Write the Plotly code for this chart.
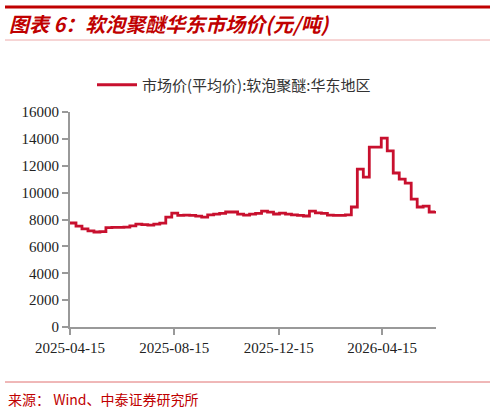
import plotly.graph_objects as go
import pandas as pd

start_date = "2025-04-15"
n_weeks = 62
prices = [7740, 7500, 7300, 7150, 7070, 7100, 7400, 7420, 7420, 7440,
          7520, 7650, 7620, 7580, 7650, 7730, 8180, 8480, 8300, 8330,
          8300, 8250, 8180, 8350, 8400, 8450, 8560, 8560, 8400, 8330,
          8400, 8450, 8630, 8550, 8410, 8480, 8400, 8350, 8300, 8260,
          8630, 8500, 8450, 8330, 8300, 8300, 8350, 8930, 11750, 11160,
          13390, 13390, 14060, 13100, 11460, 11000, 10700, 9520, 8930, 9000,
          8560, 8630]
dates = pd.date_range(start_date, periods=n_weeks, freq="7D")
tick_vals = ["2025-04-15", "2025-08-15", "2025-12-15", "2026-04-15"]
tick_text = ["2025-04-15", "2025-08-15", "2025-12-15", "2026-04-15"]
series_name = "市场价(平均价):软泡聚醚:华东地区"
title_text = "图表 6：软泡聚醚华东市场价(元/吨)"
source_text = "来源： Wind、中泰证券研究所"

W, H = 496, 412
L, R, T, B = 70, 436, 112, 327


def px(x):
    return (x - L) / (R - L)


def py(y):
    return (B - y) / (B - T)


fig = go.Figure()
fig.add_trace(go.Scatter(x=dates, y=prices, mode="lines", name=series_name,
                         line=dict(color="#c8102e", width=2.8, shape="hv")))

axis_font = dict(family="Liberation Serif, Times New Roman, serif", size=15, color="#222")
fig.update_layout(
    width=W, height=H,
    margin=dict(l=L, r=W - R, t=T, b=H - B),
    paper_bgcolor="white", plot_bgcolor="white",
    showlegend=True,
    legend=dict(orientation="h", x=px(92), y=py(85), xanchor="left", yanchor="middle",
                font=dict(family="Noto Sans CJK SC, serif", size=15, color="#333"),
                bgcolor="rgba(0,0,0,0)", itemwidth=40),
    xaxis=dict(type="date", range=["2025-04-15", "2026-06-17"],
               tickvals=tick_vals, ticktext=tick_text,
               showline=True, linecolor="#999", linewidth=2,
               ticks="outside", ticklen=6, tickcolor="#999", tickwidth=2,
               showgrid=False, zeroline=False, tickfont=axis_font),
    yaxis=dict(range=[0, 16000], tickvals=list(range(0, 16001, 2000)),
               showline=True, linecolor="#999", linewidth=2,
               ticks="outside", ticklen=6, tickcolor="#999", tickwidth=2,
               showgrid=False, zeroline=False, tickfont=axis_font,
               tickformat="d"),
    shapes=[
        dict(type="line", xref="paper", yref="paper", x0=px(5), x1=px(490),
             y0=py(7), y1=py(7), line=dict(color="#c00000", width=3)),
        dict(type="line", xref="paper", yref="paper", x0=px(5), x1=px(490),
             y0=py(40), y1=py(40), line=dict(color="#eeaaaa", width=1)),
        dict(type="line", xref="paper", yref="paper", x0=px(5), x1=px(490),
             y0=py(382), y1=py(382), line=dict(color="#e07070", width=1)),
    ],
    annotations=[
        dict(text="<b><i>" + title_text + "</i></b>", xref="paper", yref="paper",
             x=px(7), y=py(24), xanchor="left", yanchor="middle", showarrow=False,
             font=dict(family="Noto Sans CJK SC", size=20, color="#c00000")),
        dict(text=source_text, xref="paper", yref="paper",
             x=px(6), y=py(399), xanchor="left", yanchor="middle", showarrow=False,
             font=dict(family="Noto Sans CJK SC", size=14, color="#c00000")),
    ],
)

fig.write_html("out.html")
